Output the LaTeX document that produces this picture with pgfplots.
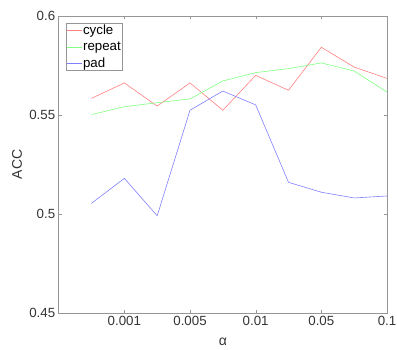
\documentclass[border=0pt]{standalone}
\usepackage{fontspec}
\setmainfont{Liberation Sans}
\usepackage{pgfplots}
\pgfplotsset{compat=1.18}
\definecolor{cred}{RGB}{255,128,128}
\definecolor{cgreen}{RGB}{128,255,128}
\definecolor{cblue}{RGB}{128,128,255}
\definecolor{axgray}{RGB}{150,150,150}
\begin{document}
\begin{tikzpicture}
\begin{axis}[
  scale only axis,
  width=328.3pt, height=297pt,
  xmin=0, xmax=10, ymin=0.45, ymax=0.6,
  xtick={2,4,6,8,10},
  xticklabels={0.001,0.005,0.01,0.05,0.1},
  ytick={0.45,0.5,0.55,0.6},
  yticklabels={0.45,0.5,0.55,0.6},
  tick align=inside,
  major tick length=3pt,
  axis line style={axgray},
  tick style={axgray},
  /pgf/number format/assume math mode=true,
  tick label style={font=\fontsize{13.3}{16}\selectfont, text=black!80},
  ylabel={ACC},
  ylabel style={at={(axis description cs:-0.127,0.5)}, anchor=center, font=\fontsize{14}{16}\selectfont, text=black!80},
  xlabel={α},
  xlabel style={at={(axis description cs:0.5,-0.085)}, anchor=north, inner sep=0pt, font=\fontsize{14}{16}\selectfont, text=black!80},
  legend style={at={(axis description cs:0.021,0.977)}, anchor=north west,
    draw=axgray, font=\fontsize{13.3}{15}\selectfont, inner sep=0.5pt,
    nodes={inner sep=1.2pt}, row sep=3.5pt},
  legend cell align=left,
  legend image code/.code={\draw[#1] (0pt,0pt) -- (15pt,0pt);},
]
\addplot[cred, line width=0.6pt] coordinates {
(1,0.5584) (2,0.5662) (3,0.5545) (4,0.5662) (5,0.5524) (6,0.5700) (7,0.5625) (8,0.5842) (9,0.5742) (10,0.5685)};
\addlegendentry{cycle}
\addplot[cgreen, line width=0.6pt] coordinates {
(1,0.5502) (2,0.5542) (3,0.5562) (4,0.5581) (5,0.5672) (6,0.5714) (7,0.5734) (8,0.5763) (9,0.5722) (10,0.5616)};
\addlegendentry{repeat}
\addplot[cblue, line width=0.6pt] coordinates {
(1,0.5054) (2,0.5180) (3,0.4991) (4,0.5524) (5,0.5621) (6,0.5551) (7,0.5160) (8,0.5110) (9,0.5081) (10,0.5091)};
\addlegendentry{pad}
\end{axis}
\pgfresetboundingbox
\path[use as bounding box] (-58.7pt,-37pt) rectangle (338.3pt,313pt);
\end{tikzpicture}
\end{document}
